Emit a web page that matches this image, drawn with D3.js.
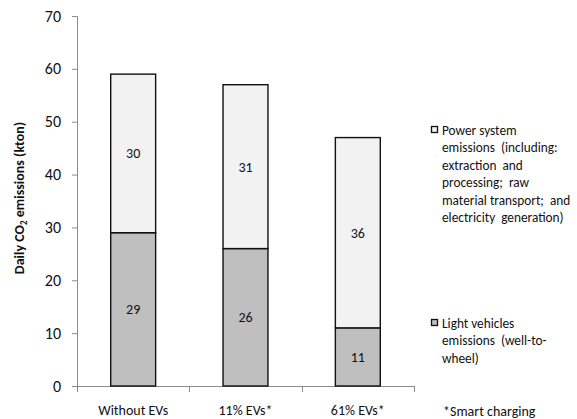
<!DOCTYPE html>
<html>
<head>
<meta charset="utf-8">
<script src="https://cdn.jsdelivr.net/npm/d3@7"></script>
<style>
  html, body { margin: 0; padding: 0; background: #fff; }
  svg { display: block; font-family: Carlito, Lato, "Open Sans", sans-serif; }
</style>
</head>
<body>
<svg id="chart" width="577" height="419"></svg>
<script>
// Scenarios along the x axis
const categories = ["Without EVs", "11% EVs*", "61% EVs*"];
// Daily CO2 emissions (kton) per scenario
const vehicleEmissions = [29, 26, 11];
const powerEmissions = [30, 31, 36];
// Y axis ticks
const yTicks = [0, 10, 20, 30, 40, 50, 60, 70];
// Legend entries (top to bottom) and their wrapped lines
const legendPower = ["Power system", "emissions  (including:", "extraction  and", "processing;  raw", "material transport;  and", "electricity  generation)"];
const legendVehicles = ["Light vehicles", "emissions  (well-to-", "wheel)"];
const footnote = "*Smart charging";

const svg = d3.select("#chart");
const x = d3.scaleBand().domain(categories).range([77, 414]).paddingInner(0.6).paddingOuter(0.3);
const y = d3.scaleLinear().domain([0, 70]).range([386, 16]);

const axisColor = "#8c8c8c";
const ink = "#111";

// y axis
const yAxis = svg.append("g").attr("transform", "translate(77,0)")
  .call(d3.axisLeft(y).tickValues(yTicks).tickSize(5).tickPadding(11));
yAxis.select(".domain").attr("stroke", axisColor);
yAxis.selectAll(".tick line").attr("stroke", axisColor);
yAxis.selectAll(".tick text").attr("font-size", 16).attr("fill", ink)
  .attr("font-family", "Carlito, Lato, sans-serif");

// x axis baseline and boundary ticks
svg.append("line").attr("x1", x.range()[0]).attr("x2", x.range()[1])
  .attr("y1", y(0) + 0.5).attr("y2", y(0) + 0.5).attr("stroke", axisColor);
const bounds = [x.range()[0]].concat(categories.map(c => x(c) + x.bandwidth() / 2 + x.step() / 2));
svg.selectAll("line.xtick").data(bounds).join("line").attr("class", "xtick")
  .attr("x1", d => Math.round(d) + 0.5).attr("x2", d => Math.round(d) + 0.5)
  .attr("y1", y(0)).attr("y2", y(0) + 6).attr("stroke", axisColor);
svg.selectAll("text.xlab").data(categories).join("text").attr("class", "xlab")
  .attr("x", d => x(d) + x.bandwidth() / 2).attr("y", 415)
  .attr("text-anchor", "middle").attr("font-size", 14).attr("fill", ink).text(d => d);

// stacked bars
const rows = categories.map((c, i) => ({ cat: c, veh: vehicleEmissions[i], pow: powerEmissions[i] }));
const series = d3.stack().keys(["veh", "pow"])(rows);
const fills = { veh: "#bfbfbf", pow: "#f2f2f2" };
series.forEach(s => {
  const g = svg.append("g");
  g.selectAll("rect").data(s).join("rect")
    .attr("x", d => x(d.data.cat)).attr("width", x.bandwidth())
    .attr("y", d => y(d[1])).attr("height", d => y(d[0]) - y(d[1]))
    .attr("fill", fills[s.key]).attr("stroke", ink).attr("stroke-width", 1.4);
  g.selectAll("text").data(s).join("text")
    .attr("x", d => x(d.data.cat) + x.bandwidth() / 2)
    .attr("y", d => (y(d[0]) + y(d[1])) / 2 + 5)
    .attr("text-anchor", "middle").attr("font-size", 14).attr("fill", ink)
    .text(d => d3.format(".0f")(d[1] - d[0]));
});

// y axis title
svg.append("text").attr("transform", "translate(24,198) rotate(-90)")
  .attr("text-anchor", "middle").attr("font-size", 14).attr("font-weight", "bold").attr("fill", ink)
  .call(t => {
    t.append("tspan").text("Daily CO");
    t.append("tspan").attr("font-size", 9).attr("dy", 3).text("2");
    t.append("tspan").attr("dy", -3).text(" emissions (kton)");
  });

// legend
function legendBlock(top, lines, fill) {
  svg.append("rect").attr("x", 431.5).attr("y", top - 3.5).attr("width", 6).attr("height", 6)
    .attr("fill", fill).attr("stroke", ink).attr("stroke-width", 1.3);
  svg.append("g").selectAll("text").data(lines).join("text")
    .attr("x", 442).attr("y", (d, i) => top + 5 + i * 17.4)
    .attr("font-size", 13.3).attr("fill", ink).style("white-space", "pre").text(d => d);
}
legendBlock(130, legendPower, fills.pow);
legendBlock(323, legendVehicles, fills.veh);
svg.append("text").attr("x", 443).attr("y", 416).attr("font-size", 14).attr("fill", ink).text(footnote);
</script>
</body>
</html>
